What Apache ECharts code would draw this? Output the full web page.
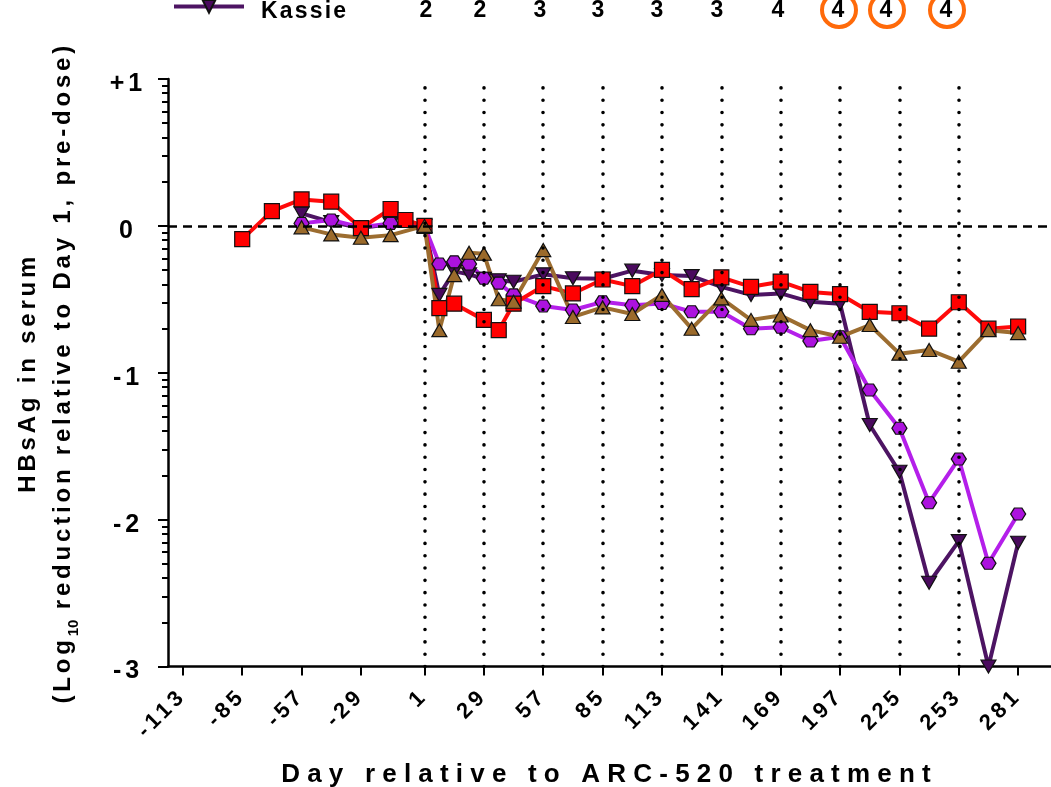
<!DOCTYPE html>
<html>
<head>
<meta charset="utf-8">
<script src="https://cdn.jsdelivr.net/npm/echarts@6/dist/echarts.min.js"></script>
<style>
  html, body { margin: 0; padding: 0; background: #fff; }
  #chart { width: 1051px; height: 787px; }
</style>
</head>
<body>
<div id="chart"></div>
<script>
// ---- Data: HBsAg change (log10) by study day ----
const SQUARE_DAYS = [-85, -71, -57, -43, -29, -15, -8, 1, 8, 15, 29, 36, 43, 57, 71, 85, 99, 113, 127, 141, 155, 169, 183, 197, 211, 225, 239, 253, 267, 281];
const SQUARE_VALUES = [-0.09, 0.10, 0.18, 0.165, -0.015, 0.115, 0.04, 0, -0.56, -0.53, -0.64, -0.71, -0.53, -0.41, -0.46, -0.365, -0.41, -0.30, -0.43, -0.35, -0.415, -0.38, -0.45, -0.465, -0.585, -0.595, -0.70, -0.52, -0.70, -0.685];

const VISIT_DAYS = [-57, -43, -29, -15, 1, 8, 15, 22, 29, 36, 43, 57, 71, 85, 99, 113, 127, 141, 155, 169, 183, 197, 211, 225, 239, 253, 267, 281];
const HEXAGON_VALUES = [0.017, 0.04, -0.01, 0.017, 0, -0.26, -0.245, -0.26, -0.357, -0.39, -0.47, -0.545, -0.573, -0.517, -0.54, -0.528, -0.585, -0.585, -0.70, -0.69, -0.784, -0.755, -1.118, -1.378, -1.885, -1.587, -2.297, -1.962];
const KASSIE_VALUES = [0.085, 0.026, -0.015, 0.012, 0, -0.47, -0.31, -0.33, -0.36, -0.37, -0.38, -0.33, -0.357, -0.36, -0.305, -0.335, -0.342, -0.415, -0.47, -0.46, -0.517, -0.53, -1.356, -1.674, -2.43, -2.146, -3.0, -2.157];
const TRIANGLE_VALUES = [-0.01, -0.058, -0.081, -0.063, 0, -0.71, -0.335, -0.183, -0.19, -0.50, -0.517, -0.165, -0.62, -0.555, -0.60, -0.47, -0.70, -0.494, -0.64, -0.61, -0.71, -0.755, -0.675, -0.87, -0.845, -0.925, -0.71, -0.73];

// Dosing days and dose level given at each
const DOSE_DAYS = [1, 29, 57, 85, 113, 141, 169, 197, 225, 253];
const DOSE_LEVELS = ['2', '2', '3', '3', '3', '3', '4', '4', '4', '4'];
const CIRCLED_FROM = 7;

// Axis ticks
const X_TICKS = [-113, -85, -57, -29, 1, 29, 57, 85, 113, 141, 169, 197, 225, 253, 281];
const Y_MIN = -3, Y_MAX = 1;
const Y_MINOR_FACTORS = [2, 3, 4, 5, 6, 7, 8, 9];

// ---- Styling ----
const FONT = "'Liberation Sans', Arial, sans-serif";
// Wide letter tracking for the bold labels, keyed by font size (px)
const TRACKING = { '26': 7.2, '24': 3.8, '25': 4, '22': 4, '23': 2.2 };
(function () {
  const proto = CanvasRenderingContext2D.prototype;
  const setTracking = function (ctx) {
    const m = /(\d+(?:\.\d+)?)px/.exec(ctx.font);
    const s = m ? TRACKING[m[1]] : 0;
    ctx.letterSpacing = (s || 0) + 'px';
  };
  const fill = proto.fillText, measure = proto.measureText;
  proto.fillText = function (t, x, y, w) { setTracking(this); return w === undefined ? fill.call(this, t, x, y) : fill.call(this, t, x, y, w); };
  proto.measureText = function (t) { setTracking(this); return measure.call(this, t); };
})();

const zip = (days, vals) => days.map((d, i) => [d, vals[i]]);
const minorTicks = [];
for (let m = Y_MIN; m < Y_MAX; m++) Y_MINOR_FACTORS.forEach(k => minorTicks.push(m + Math.log10(k)));

const HEX_PATH = 'path://M0,5 L3,0 L9,0 L12,5 L9,10 L3,10 Z';

function markerSeries(name, data, symbol, size, fill, line, extra) {
  return Object.assign({
    name: name,
    type: 'line',
    data: data,
    symbol: symbol,
    symbolSize: size,
    clip: false,
    itemStyle: { color: fill, borderColor: '#111', borderWidth: 1.2 },
    lineStyle: { color: line, width: 4 },
    emphasis: { disabled: true }
  }, extra || {});
}

const chart = echarts.init(document.getElementById('chart'), null, { renderer: 'canvas' });

const doseGraphics = [];
const DOSE_LABEL_X = [427, 481, 541, 599, 658, 718, 779, 839, 887, 947];
DOSE_LEVELS.forEach((lvl, i) => {
  if (i >= CIRCLED_FROM) {
    doseGraphics.push({
      type: 'circle', shape: { cx: DOSE_LABEL_X[i], cy: 10, r: 17 },
      style: { fill: 'none', stroke: '#FF6A0A', lineWidth: 4 }, silent: true
    });
  }
  doseGraphics.push({
    type: 'text', x: DOSE_LABEL_X[i], y: 11, silent: true,
    style: { text: lvl, font: 'bold 23px ' + FONT, fill: '#000', align: 'center', verticalAlign: 'middle' }
  });
});

chart.setOption({
  animation: false,
  backgroundColor: '#fff',
  grid: { left: 168, right: 0, top: 79, bottom: 120.5, outerBoundsMode: 'none', containLabel: false },
  legend: {
    data: ['Kassie'],
    left: 172, top: -1, padding: 0,
    itemWidth: 70, itemHeight: 16,
    selectedMode: false,
    lineStyle: { width: 4 },
    formatter: '{k|{name}}',
    textStyle: {
      rich: {
        k: { fontFamily: FONT, fontSize: 23, fontWeight: 'bold', color: '#000', padding: [11, 0, 0, 12] }
      }
    }
  },
  xAxis: {
    type: 'value', min: -120, max: 296.5,
    axisLine: { onZero: false, lineStyle: { color: '#000', width: 2.5 } },
    axisTick: { customValues: X_TICKS, length: 9, lineStyle: { color: '#000', width: 2 } },
    axisLabel: {
      customValues: X_TICKS, rotate: 45, margin: 26,
      fontFamily: FONT, fontSize: 22, fontWeight: 'bold', color: '#000'
    },
    splitLine: { show: false },
    name: 'Day relative to ARC-520 treatment',
    nameLocation: 'middle', nameGap: 92,
    nameTextStyle: { fontFamily: FONT, fontSize: 26, fontWeight: 'bold', color: '#000' }
  },
  yAxis: [{
    type: 'value', min: Y_MIN, max: Y_MAX, interval: 1,
    axisLine: { onZero: false, lineStyle: { color: '#000', width: 2.5 } },
    axisTick: { length: 10, lineStyle: { color: '#000', width: 2 } },
    axisLabel: {
      margin: 40, align: 'center', verticalAlign: 'top', lineHeight: 10,
      fontFamily: FONT, fontSize: 25, fontWeight: 'bold', color: '#000',
      formatter: v => (v > 0 ? '+' + v : String(v))
    },
    splitLine: { show: false },
    name: '{t|HBsAg in serum}\n{t|(Log}{s|10}{t| reduction relative to Day 1, pre-dose)}',
    nameLocation: 'middle', nameGap: 87, nameRotate: 90,
    nameTextStyle: {
      rich: {
        t: { fontFamily: FONT, fontSize: 24, fontWeight: 'bold', color: '#000', lineHeight: 35 },
        s: { fontFamily: FONT, fontSize: 15, fontWeight: 'bold', color: '#000', lineHeight: 16, verticalAlign: 'bottom' }
      }
    }
  }, {
    type: 'value', min: Y_MIN, max: Y_MAX, position: 'left',
    axisLine: { show: false, onZero: false },
    axisLabel: { show: false },
    splitLine: { show: false },
    axisTick: { show: true, customValues: minorTicks, length: 6, lineStyle: { color: '#000', width: 2 } }
  }],
  series: [
    {
      name: 'guides', type: 'line', data: [], silent: true, z: 1,
      markLine: {
        silent: true, symbol: ['none', 'none'], label: { show: false },
        emphasis: { disabled: true },
        data: DOSE_DAYS.map(d => ({ xAxis: d, lineStyle: { type: [0.01, 12.3], cap: 'round', width: 3.6, color: '#000' } }))
          .concat([{ yAxis: 0, lineStyle: { type: [9, 6], width: 2.5, color: '#000' } }])
      }
    },
    markerSeries('Kassie', zip(VISIT_DAYS, KASSIE_VALUES), 'triangle', [15, 13], '#4A0A5E', '#4D1463', { symbolRotate: 180 }),
    markerSeries('Hexagon', zip(VISIT_DAYS, HEXAGON_VALUES), HEX_PATH, [15, 12], '#AC12DE', '#B41FEA'),
    markerSeries('Square', zip(SQUARE_DAYS, SQUARE_VALUES), 'rect', 15, '#FF0000', '#FF0A0A'),
    markerSeries('Triangle', zip(VISIT_DAYS, TRIANGLE_VALUES), 'triangle', [15, 13], '#9B6A2B', '#9C6D30')
  ],
  graphic: doseGraphics
});
</script>
</body>
</html>
